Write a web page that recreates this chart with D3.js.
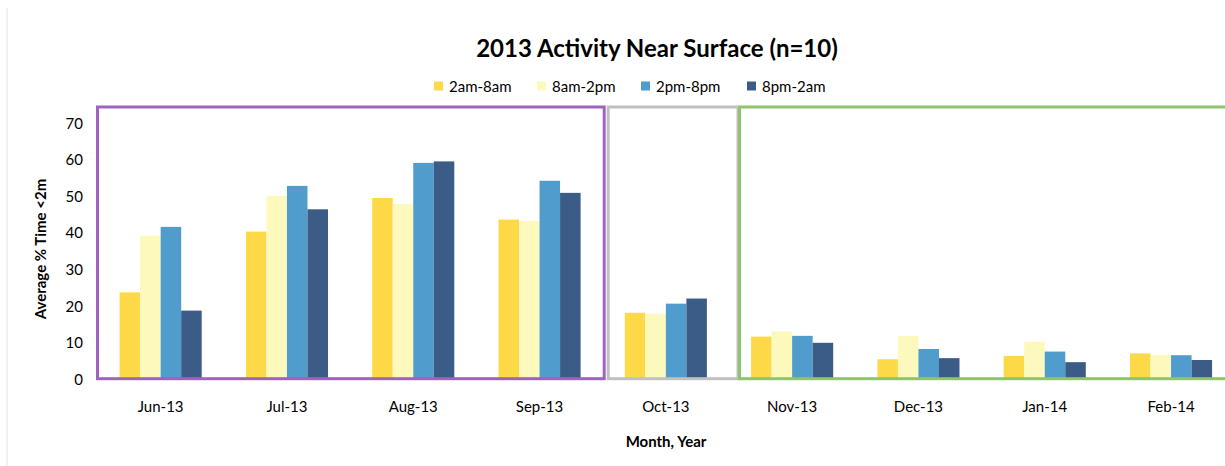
<!DOCTYPE html>
<meta charset="utf-8">
<script src="https://d3js.org/d3.v7.min.js"></script>
<style>
body { margin: 0; background: #fff; }
text { font-family: Lato, "Open Sans", sans-serif; fill: #000; }
.tick text { font-size: 15px; }
</style>
<body>
<script>

// chart data
var months = ["Jun-13", "Jul-13", "Aug-13", "Sep-13", "Oct-13", "Nov-13", "Dec-13", "Jan-14", "Feb-14"];
var periods = ["2am-8am", "8am-2pm", "2pm-8pm", "8pm-2am"];
var s2am = [23.7, 40.3, 49.5, 43.6, 18.1, 11.6, 5.4, 6.3, 7.0];
var s8am = [39.2, 50.1, 47.8, 43.2, 17.8, 13.0, 11.8, 10.2, 6.6];
var s2pm = [41.6, 52.8, 59.1, 54.2, 20.6, 11.8, 8.2, 7.5, 6.5];
var s8pm = [18.7, 46.4, 59.5, 50.9, 22.0, 9.9, 5.7, 4.6, 5.2];
var yTicks = [0, 10, 20, 30, 40, 50, 60, 70];
// highlighted month groups (first, last)
var groups = [["Jun-13", "Sep-13"], ["Oct-13", "Oct-13"], ["Nov-13", "Feb-14"]];

var colors = ["#fdd948", "#fdf9bd", "#509ccd", "#3c5c88"];
var boxColors = ["#9d63bf", "#c0c0c0", "#8fc46c"];

var series = [s2am, s8am, s2pm, s8pm];
var rows = months.map(function(m, i) {
  var r = {month: m};
  periods.forEach(function(p, j) { r[p] = series[j][i]; });
  return r;
});

var width = 1225, height = 466;
var left = 97.5, step = 126.3;

var svg = d3.select("body").append("svg")
    .attr("width", width)
    .attr("height", height);

// faint frame line on the left
svg.append("line")
    .attr("x1", 7).attr("x2", 7)
    .attr("y1", 8).attr("y2", height)
    .attr("stroke", "#ebebeb").attr("stroke-width", 1.5);

var x = d3.scaleBand()
    .domain(months)
    .range([left, left + step * months.length])
    .paddingInner(0.35)
    .paddingOuter(0.175);

var xs = d3.scaleBand()
    .domain(periods)
    .range([0, x.bandwidth()]);

var y = d3.scaleLinear()
    .domain([0, 70])
    .range([379, 123]);

// bars
svg.append("g")
  .selectAll("g")
  .data(rows)
  .enter().append("g")
    .attr("transform", function(d) { return "translate(" + x(d.month) + ",0)"; })
  .selectAll("rect")
  .data(function(d) { return periods.map(function(p, j) { return {key: p, value: d[p], c: colors[j]}; }); })
  .enter().append("rect")
    .attr("x", function(d) { return xs(d.key); })
    .attr("y", function(d) { return y(d.value); })
    .attr("width", xs.bandwidth())
    .attr("height", function(d) { return y(0) - y(d.value); })
    .attr("fill", function(d) { return d.c; });

// group boxes
var edge = function(m, side) {
  var i = months.indexOf(m);
  return left + step * (i + side);
};
var boxEdges = [
  [edge(groups[0][0], 0), edge(groups[0][1], 1) + 1.5],
  [edge(groups[1][0], 0) + 5.5, edge(groups[1][1], 1) + 9],
  [edge(groups[2][0], 0) + 10.5, width + 20]
];
svg.append("g")
  .selectAll("rect")
  .data(boxEdges)
  .enter().append("rect")
    .attr("x", function(d) { return d[0]; })
    .attr("y", 107)
    .attr("width", function(d) { return d[1] - d[0]; })
    .attr("height", 378.7 - 107)
    .attr("fill", "none")
    .attr("stroke", function(d, i) { return boxColors[i]; })
    .attr("stroke-width", 3);

// axes
var yAxis = svg.append("g")
    .attr("transform", "translate(83,0)")
    .call(d3.axisLeft(y).tickValues(yTicks).tickSize(0).tickPadding(0));
yAxis.select(".domain").remove();
yAxis.selectAll("text").attr("dy", "0.35em");

var xAxis = svg.append("g")
    .attr("transform", "translate(0,400)")
    .call(d3.axisBottom(x).tickSize(0).tickPadding(0));
xAxis.select(".domain").remove();
xAxis.selectAll("text").attr("dy", "0.8em");

// titles
svg.append("text")
    .attr("x", 657).attr("y", 57)
    .attr("text-anchor", "middle")
    .style("font-size", "24px").style("font-weight", "bold")
    .text("2013 Activity Near Surface (n=10)");

svg.append("text")
    .attr("x", 666).attr("y", 447)
    .attr("text-anchor", "middle")
    .style("font-size", "15px").style("font-weight", "bold")
    .text("Month, Year");

svg.append("text")
    .attr("transform", "translate(46,249) rotate(-90)")
    .attr("text-anchor", "middle")
    .style("font-size", "15px").style("font-weight", "bold")
    .text("Average % Time <2m");

// legend
var legendX = [434, 537, 641, 747];
var legend = svg.append("g")
  .selectAll("g")
  .data(periods)
  .enter().append("g")
    .attr("transform", function(d, i) { return "translate(" + legendX[i] + ",0)"; });
legend.append("rect")
    .attr("y", 81.5).attr("width", 9).attr("height", 9)
    .attr("fill", function(d, i) { return colors[i]; });
legend.append("text")
    .attr("x", 15).attr("y", 92)
    .style("font-size", "15px")
    .text(function(d) { return d; });

</script>
</body>
